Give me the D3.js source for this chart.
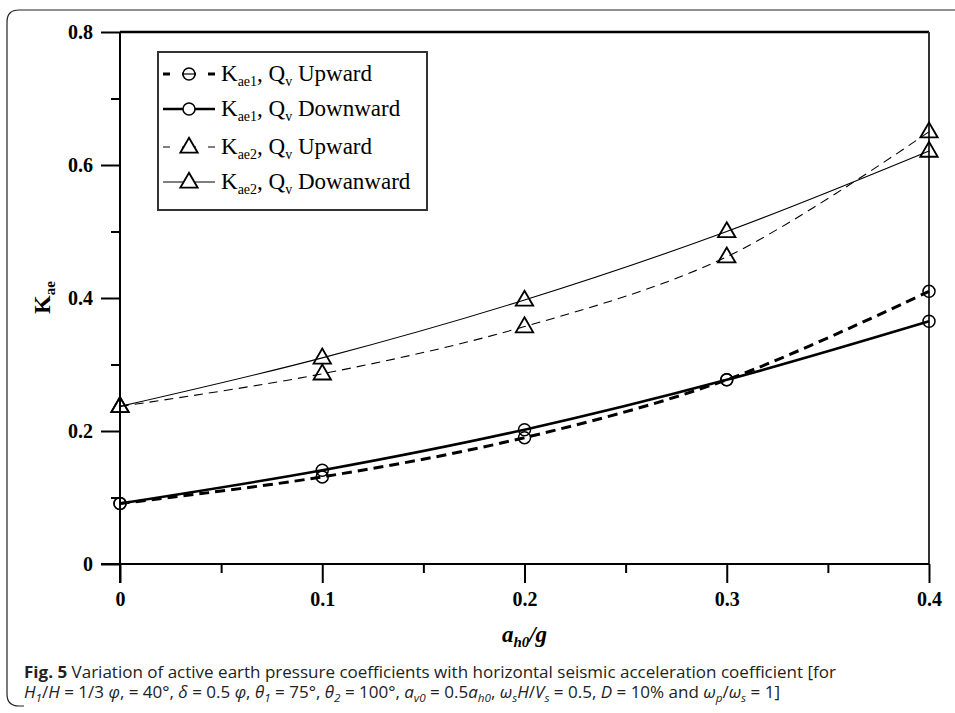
<!DOCTYPE html>
<html>

<head>
    <meta charset="utf-8">
    <title>Kae vs ah0/g</title>
    <script src="https://d3js.org/d3.v7.min.js"></script>
    <style>
        body { margin: 0; background: #fff; }
        .tick text { font-family: "Liberation Serif", serif; font-weight: bold; font-size: 20px; fill: #000; }
        .axis path, .axis line { stroke: #000; stroke-width: 2px; }
    </style>
</head>

<body>
    <svg id="chart" width="955" height="713"></svg>
    <script>
        // data
        const xValues = [0, 0.1, 0.2, 0.3, 0.4];
        const kae1Up = [0.091, 0.131, 0.190, 0.277, 0.410];
        const kae1Down = [0.091, 0.141, 0.202, 0.277, 0.365];
        const kae2Up = [0.237, 0.286, 0.357, 0.462, 0.650];
        const kae2Down = [0.237, 0.310, 0.397, 0.500, 0.621];
        const xTicks = [0, 0.1, 0.2, 0.3, 0.4];
        const xMinor = [0.05, 0.15, 0.25, 0.35];
        const yTicks = [0, 0.2, 0.4, 0.6, 0.8];
        const yMinor = [0.1, 0.3, 0.5, 0.7];

        const seriesNames = ["ae1|Upward", "ae1|Downward", "ae2|Upward", "ae2|Dowanward"];

        const svg = d3.select("svg");

        const x = d3.scaleLinear().domain([0, 0.4]).range([120, 929]);
        const y = d3.scaleLinear().domain([0, 0.8]).range([564, 32]);

        // figure frame (rounded on the left)
        svg.append("path")
            .attr("d", "M955,10 L19,10 Q7,10 7,22 L7,694 Q7,706 19,706 L24,706")
            .attr("fill", "none")
            .attr("stroke", "#222")
            .attr("stroke-width", 1.2);

        // box top / right
        svg.append("line").attr("x1", x(0)).attr("x2", x(0.4)).attr("y1", y(0.8)).attr("y2", y(0.8))
            .attr("stroke", "#000").attr("stroke-width", 2.5);
        svg.append("line").attr("x1", x(0.4)).attr("x2", x(0.4)).attr("y1", y(0.8)).attr("y2", y(0))
            .attr("stroke", "#333").attr("stroke-width", 2);

        // axes
        const fmt = v => v === 0 ? "0" : String(v);
        svg.append("g").attr("class", "axis")
            .attr("transform", `translate(0,${y(0)})`)
            .call(d3.axisBottom(x).tickValues(xTicks).tickSize(19).tickPadding(4).tickFormat(fmt))
            .call(g => g.select(".domain").attr("d", `M${x(0) - 19},0H${x(0.4)}`));
        svg.append("g").attr("class", "axis")
            .attr("transform", `translate(0,${y(0)})`)
            .call(d3.axisBottom(x).tickValues(xMinor).tickSize(9).tickFormat(""))
            .call(g => g.select(".domain").remove())
            .selectAll("line").attr("stroke-width", 1.5);

        svg.append("g").attr("class", "axis")
            .attr("transform", `translate(${x(0)},0)`)
            .call(d3.axisLeft(y).tickValues(yTicks).tickSize(19).tickPadding(8).tickFormat(fmt))
            .call(g => g.select(".domain").attr("d", `M0,${y(0) + 19}V${y(0.8)}`));
        svg.append("g").attr("class", "axis")
            .attr("transform", `translate(${x(0)},0)`)
            .call(d3.axisLeft(y).tickValues(yMinor).tickSize(9).tickFormat(""))
            .call(g => g.select(".domain").remove())
            .selectAll("line").attr("stroke-width", 1.5);

        svg.selectAll(".axis text").each(function () {
            const t = d3.select(this);
            if (t.attr("y") && +t.attr("y") > 0) t.attr("dy", "0.95em");
            else t.attr("dy", "0.34em");
        });

        // axis titles
        const xt = svg.append("text")
            .attr("x", (x(0) + x(0.4)) / 2).attr("y", 642)
            .attr("text-anchor", "middle")
            .style("font-family", "Liberation Serif, serif").style("font-weight", "bold")
            .style("font-style", "italic").style("font-size", "23px");
        xt.append("tspan").text("a");
        xt.append("tspan").text("h0").attr("dy", 5).style("font-size", "15px");
        xt.append("tspan").text("/g").attr("dy", -5);

        const yt = svg.append("text")
            .attr("transform", `translate(50,${y(0.4) + 16}) rotate(-90)`)
            .style("font-family", "Liberation Serif, serif").style("font-weight", "bold")
            .style("font-size", "24px");
        yt.append("tspan").text("K");
        yt.append("tspan").text("ae").attr("dy", 5).style("font-size", "15px");

        // lines
        const series = [
            { vals: kae1Up, dash: "10,6", width: 3, mark: "circle" },
            { vals: kae1Down, dash: null, width: 2.6, mark: "circle" },
            { vals: kae2Up, dash: "9,6", width: 1.1, mark: "tri" },
            { vals: kae2Down, dash: null, width: 1.1, mark: "tri" }
        ];

        const line = d3.line()
            .x((d, i) => x(xValues[i]))
            .y(d => y(d))
            .curve(d3.curveCatmullRom.alpha(0.5));

        const triPath = s => `M0,${-s * 0.62}L${s * 0.58},${s * 0.38}L${-s * 0.58},${s * 0.38}Z`;

        series.forEach(s => {
            svg.append("path")
                .datum(s.vals)
                .attr("d", line)
                .attr("fill", "none")
                .attr("stroke", "#000")
                .attr("stroke-width", s.width)
                .attr("stroke-dasharray", s.dash);
            const g = svg.append("g");
            s.vals.forEach((v, i) => {
                if (s.mark === "circle") {
                    g.append("circle").attr("cx", x(xValues[i])).attr("cy", y(v)).attr("r", 6)
                        .attr("fill", "none").attr("stroke", "#000").attr("stroke-width", 1.5);
                } else {
                    g.append("path").attr("transform", `translate(${x(xValues[i])},${y(v)})`)
                        .attr("d", triPath(15))
                        .attr("fill", "none").attr("stroke", "#000").attr("stroke-width", 1.8);
                }
            });
        });

        // legend
        const lg = svg.append("g");
        lg.append("rect").attr("x", 158).attr("y", 52).attr("width", 269).attr("height", 158)
            .attr("fill", "#fff").attr("stroke", "#333").attr("stroke-width", 2);
        const rowY = [74, 109, 147, 182];
        series.forEach((s, i) => {
            const yy = rowY[i];
            lg.append("line").attr("x1", 163).attr("x2", 215).attr("y1", yy).attr("y2", yy)
                .attr("stroke", "#000").attr("stroke-width", s.width)
                .attr("stroke-dasharray", s.dash ? "7,12,14,12,7" : null);
            if (s.mark === "circle") {
                lg.append("circle").attr("cx", 189).attr("cy", yy).attr("r", 6)
                    .attr("fill", "#fff").attr("stroke", "#000").attr("stroke-width", 1.5);
                if (s.dash) lg.append("line").attr("x1", 183).attr("x2", 195).attr("y1", yy).attr("y2", yy)
                    .attr("stroke", "#000").attr("stroke-width", 1.2);
            } else {
                lg.append("path").attr("transform", `translate(189,${yy})`).attr("d", triPath(15))
                    .attr("fill", "#fff").attr("stroke", "#000").attr("stroke-width", 1.8);
            }
            const [sub, dir] = seriesNames[i].split("|");
            const t = lg.append("text").attr("x", 221).attr("y", yy + 7)
                .style("font-family", "Liberation Serif, serif").style("font-size", "23px");
            t.append("tspan").text("K");
            t.append("tspan").text(sub).attr("dy", 5).style("font-size", "14px");
            t.append("tspan").text(", Q").attr("dy", -5);
            t.append("tspan").text("v").attr("dy", 5).style("font-size", "14px");
            t.append("tspan").text(" " + dir).attr("dy", -5);
        });

        // caption
        const cap = svg.append("g").style("font-family", "Open Sans, sans-serif").style("font-size", "16px").style("fill", "#222");
        const c1 = cap.append("text").attr("x", 24).attr("y", 678).attr("textLength", 812).attr("lengthAdjust", "spacingAndGlyphs");
        c1.append("tspan").text("Fig. 5").style("font-weight", "bold");
        c1.append("tspan").text("  Variation of active earth pressure coefficients with horizontal seismic acceleration coefficient [for");

        const c2 = cap.append("text").attr("x", 24).attr("y", 698).attr("textLength", 756).attr("lengthAdjust", "spacingAndGlyphs");
        const parts = [
            ["H", "i"], ["1", "sub"], ["/", ""], ["H", "i"], [" = 1/3 ", ""], ["φ", "i"], [",  = 40°, ", ""],
            ["δ", "i"], [" = 0.5 ", ""], ["φ", "i"], [", ", ""], ["θ", "i"], ["1", "sub"], [" = 75°, ", ""],
            ["θ", "i"], ["2", "sub"], [" = 100°, ", ""], ["a", "i"], ["v0", "sub"], [" = 0.5", ""],
            ["a", "i"], ["h0", "sub"], [", ", ""], ["ω", "i"], ["s", "sub"], ["H", "i"], ["/", ""], ["V", "i"],
            ["s", "sub"], [" = 0.5, ", ""], ["D", "i"], [" = 10% and ", ""], ["ω", "i"], ["p", "sub"], ["/", ""],
            ["ω", "i"], ["s", "sub"], [" = 1]", ""]
        ];
        let lowered = false;
        parts.forEach(([txt, kind]) => {
            const sp = c2.append("tspan").text(txt);
            if (kind === "sub") {
                sp.attr("dy", lowered ? 0 : 4).style("font-size", "11px").style("font-style", "italic");
                lowered = true;
            } else {
                if (lowered) sp.attr("dy", -4);
                lowered = false;
                if (kind === "i") sp.style("font-style", "italic");
            }
        });
    </script>
</body>

</html>
